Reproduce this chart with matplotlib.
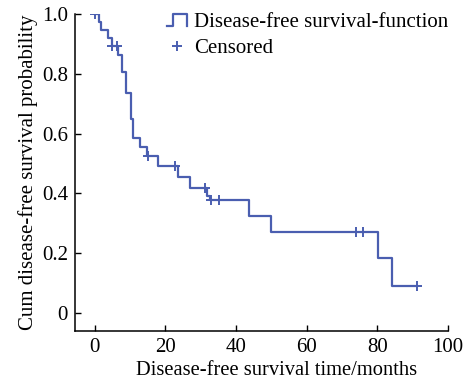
import numpy as np
import matplotlib
matplotlib.use("Agg")
import matplotlib.pyplot as plt
from matplotlib.lines import Line2D
from matplotlib.legend_handler import HandlerBase

plt.rcParams['font.family'] = ['Liberation Serif', 'DejaVu Serif']

# Kaplan-Meier curve (month of each drop, survival after it)
drop_months = [1.3, 1.7, 3.9, 4.8, 6.6, 7.8, 8.8, 10.2, 10.9, 12.9, 14.8,
               17.9, 23.6, 27.0, 31.8, 32.6, 43.8, 50.0, 80.3, 84.2]
survival = [0.973, 0.946, 0.921, 0.892, 0.863, 0.806, 0.735, 0.648, 0.586,
            0.556, 0.525, 0.493, 0.455, 0.418, 0.390, 0.378, 0.325, 0.272,
            0.183, 0.091]
censored_months = [0.0, 5.0, 6.3, 15.0, 22.6, 31.1, 33.0, 35.1, 74.1, 76.0, 91.3]
last_month = 91.3

line_color = '#4a5eb0'

# step curve
t = np.array([0.0] + drop_months + [last_month])
s = np.array([1.0] + survival + [survival[-1]])

# survival value at each censored time
idx = np.searchsorted(t[:-1], censored_months, side='right') - 1
cens_s = s[idx]


class StepHandler(HandlerBase):
    def create_artists(self, legend, orig_handle, xdescent, ydescent,
                       width, height, fontsize, trans):
        x0, w = -xdescent, width
        lo, hi = -ydescent + height * 0.05, -ydescent + height * 0.9
        xs = [x0, x0 + 0.3 * w, x0 + 0.3 * w, x0 + w, x0 + w]
        ys = [lo, lo, hi, hi, lo]
        ln = Line2D(xs, ys, color=line_color, lw=1.6, transform=trans)
        return [ln]


fig = plt.figure(figsize=(4.71, 3.83), dpi=100)
ax = fig.add_axes([0.159, 0.136, 0.792, 0.827])

ax.step(t, s, where='post', color=line_color, lw=1.6)
ax.plot(censored_months, cens_s, '+', color=line_color, ms=7, mew=1.4)

ax.set_xlim(-5.6, 100)
ax.set_ylim(-0.06, 1.0)
ax.set_xticks([0, 20, 40, 60, 80, 100])
ax.set_yticks([0, 0.2, 0.4, 0.6, 0.8, 1.0])
ax.set_yticklabels(['0', '0.2', '0.4', '0.6', '0.8', '1.0'])
ax.tick_params(direction='in', length=4, width=1, labelsize=15, pad=5)

for side in ['top', 'right']:
    ax.spines[side].set_visible(False)
for side in ['left', 'bottom']:
    ax.spines[side].set_linewidth(1.1)

ax.set_xlabel('Disease-free survival time/months', fontsize=14.8)
ax.xaxis.set_label_coords(0.54, -0.095)
ax.set_ylabel('Cum disease-free survival probability', fontsize=15, labelpad=3)

step_handle = Line2D([], [], color=line_color)
cens_handle = Line2D([], [], ls='none', marker='+', color=line_color, ms=7, mew=1.4)
ax.legend([step_handle, cens_handle],
          ['Disease-free survival-function', 'Censored'],
          handler_map={step_handle: StepHandler()},
          loc='upper right', bbox_to_anchor=(1.0, 1.005), frameon=False,
          fontsize=15, handlelength=1.0, handletextpad=0.3, labelspacing=0.3,
          borderaxespad=0.0, borderpad=0.0)

plt.savefig('out.png', dpi=100)
